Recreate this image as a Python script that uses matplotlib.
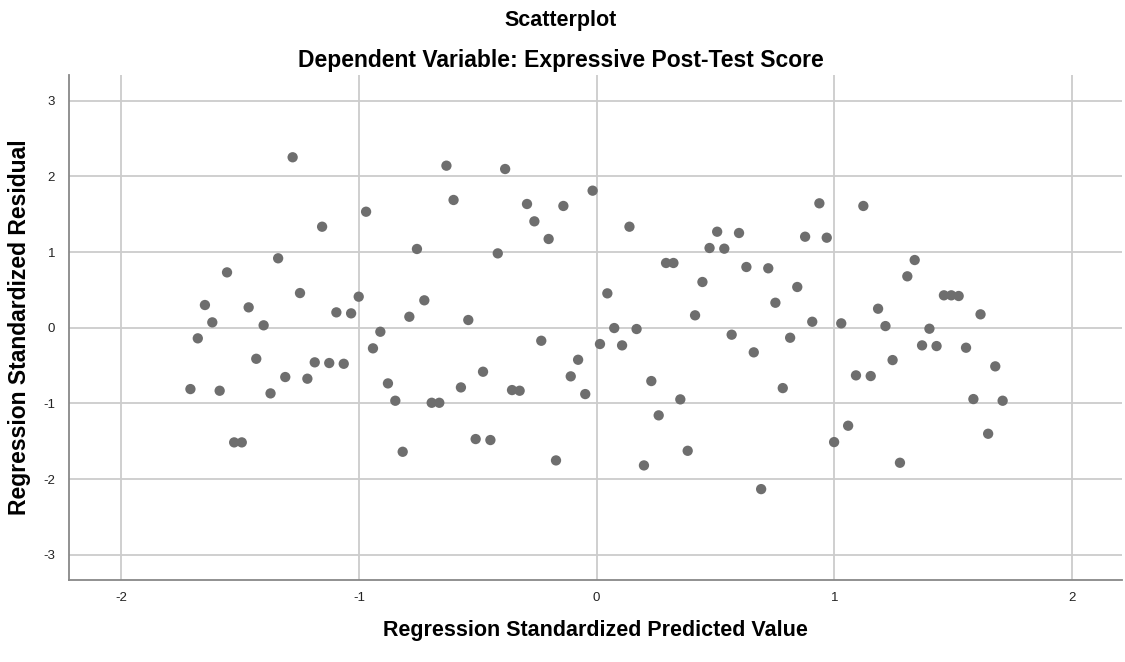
import matplotlib
matplotlib.use("Agg")
import matplotlib.pyplot as plt

plt.rcParams["font.family"] = ["Liberation Sans", "DejaVu Sans"]
plt.rcParams["axes.unicode_minus"] = False

# standardized predicted values (x) and standardized residuals (y)
pred = [-1.709, -1.678, -1.648, -1.617, -1.586, -1.555, -1.525, -1.493, -1.464, -1.432,
        -1.401, -1.372, -1.340, -1.310, -1.279, -1.248, -1.217, -1.186, -1.155, -1.125,
        -1.095, -1.064, -1.033, -1.001, -0.970, -0.941, -0.910, -0.878, -0.847, -0.816,
        -0.788, -0.756, -0.725, -0.694, -0.662, -0.632, -0.602, -0.571, -0.540, -0.509,
        -0.478, -0.447, -0.416, -0.385, -0.356, -0.324, -0.293, -0.262, -0.233, -0.202,
        -0.171, -0.140, -0.109, -0.078, -0.048, -0.017, 0.014, 0.045, 0.074, 0.107,
        0.138, 0.168, 0.199, 0.230, 0.261, 0.292, 0.323, 0.352, 0.383, 0.414,
        0.445, 0.475, 0.507, 0.537, 0.568, 0.599, 0.630, 0.661, 0.692, 0.722,
        0.752, 0.783, 0.814, 0.844, 0.877, 0.907, 0.937, 0.968, 0.999, 1.029,
        1.058, 1.091, 1.122, 1.153, 1.184, 1.215, 1.245, 1.276, 1.307, 1.338,
        1.369, 1.400, 1.430, 1.461, 1.492, 1.523, 1.554, 1.585, 1.615, 1.647,
        1.677, 1.708]
resid = [-0.810, -0.140, 0.300, 0.071, -0.832, 0.731, -1.514, -1.514, 0.269, -0.410,
         0.032, -0.867, 0.917, -0.651, 2.251, 0.458, -0.673, -0.457, 1.334, -0.466,
         0.203, -0.476, 0.190, 0.410, 1.532, -0.272, -0.053, -0.735, -0.964, -1.638,
         0.145, 1.040, 0.362, -0.991, -0.991, 2.140, 1.687, -0.788, 0.102, -1.470,
         -0.581, -1.483, 0.982, 2.096, -0.823, -0.832, 1.634, 1.405, -0.172, 1.172,
         -1.752, 1.608, -0.642, -0.423, -0.876, 1.810, -0.215, 0.454, -0.004, -0.233,
         1.334, -0.017, -1.818, -0.704, -1.157, 0.855, 0.855, -0.946, -1.625, 0.164,
         0.604, 1.053, 1.268, 1.044, -0.092, 1.251, 0.802, -0.325, -2.131, 0.785,
         0.330, -0.797, -0.132, 0.538, 1.202, 0.079, 1.643, 1.189, -1.510, 0.058,
         -1.294, -0.629, 1.608, -0.638, 0.251, 0.022, -0.427, -1.783, 0.679, 0.894,
         -0.233, -0.013, -0.242, 0.428, 0.428, 0.419, -0.264, -0.942, 0.177, -1.400,
         -0.510, -0.964]

xticks = [-2, -1, 0, 1, 2]
yticks = [-3, -2, -1, 0, 1, 2, 3]

fig = plt.figure(figsize=(11.25, 6.62), dpi=100)
ax = fig.add_axes([0.0613, 0.124, 0.936, 0.763])

ax.scatter(pred, resid, s=55, color="#6e6e6e", edgecolors="none", zorder=3)

ax.set_xlim(-2.22, 2.21)
ax.set_ylim(-3.33, 3.34)
ax.set_xticks(xticks)
ax.set_yticks(yticks)
ax.tick_params(length=0, labelsize=9.5, colors="#222222")
ax.tick_params(axis="x", pad=9)
ax.tick_params(axis="y", pad=10)
ax.grid(True, color="#cccccc", linewidth=1.3, zorder=0)
ax.set_axisbelow(True)

for s in ["top", "right"]:
    ax.spines[s].set_visible(False)
for s in ["left", "bottom"]:
    ax.spines[s].set_color("#888888")
    ax.spines[s].set_linewidth(1.3)

ax.set_xlabel("Regression Standardized Predicted Value", fontsize=15.5, fontweight="bold")
ax.set_ylabel("Regression Standardized Residual", fontsize=16.5, fontweight="bold")
ax.xaxis.set_label_coords(0.5, -0.079)
ax.yaxis.set_label_coords(-0.036, 0.5)

fig.text(0.4987, 0.969, "Scatterplot", ha="center", va="center", fontsize=15.5, fontweight="bold")
fig.text(0.4987, 0.909, "Dependent Variable: Expressive Post-Test Score", ha="center", va="center",
         fontsize=16.5, fontweight="bold")

plt.savefig("out.png", dpi=100)
plt.close()
